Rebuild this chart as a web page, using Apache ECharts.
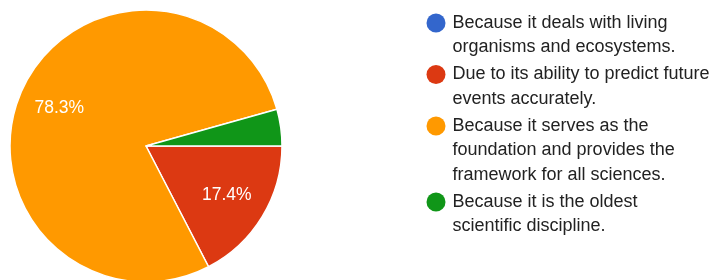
<!DOCTYPE html>
<html>
<head>
<meta charset="utf-8">
<title>Pie</title>
<script src="https://cdn.jsdelivr.net/npm/echarts@6/dist/echarts.min.js"></script>
<style>
  html, body { margin: 0; padding: 0; background: #fff; }
  #main { width: 718px; height: 280px; }
</style>
</head>
<body>
<div id="main"></div>
<script>
// answers in the order they go round the pie (clockwise from 3 o'clock)
var answers = [
  "Because it deals with living organisms and ecosystems.",
  "Due to its ability to predict future events accurately.",
  "Because it serves as the foundation and provides the framework for all sciences.",
  "Because it is the oldest scientific discipline."
];
// legend text, wrapped like the original
var answerLines = [
  ["Because it deals with living", "organisms and ecosystems."],
  ["Due to its ability to predict future", "events accurately."],
  ["Because it serves as the", "foundation and provides the", "framework for all sciences."],
  ["Because it is the oldest", "scientific discipline."]
];
var responses = [0, 4, 18, 1];
var colors = ["#3366cc", "#dc3912", "#ff9900", "#109618"];

var font = '"Liberation Sans", Arial, sans-serif';
var lh = 24.5;

var rich = {
  t: { fontSize: 18, lineHeight: lh, color: "#222", fontFamily: font, padding: [0, 0, 0, 7] },
  s: { width: 19, lineHeight: lh }
};
colors.forEach(function (c, i) {
  rich["d" + i] = { width: 19, height: 19, borderRadius: 9.5, backgroundColor: c, lineHeight: lh };
});

var pieData = answers.map(function (name, i) {
  return { name: name, value: responses[i], itemStyle: { color: colors[i] } };
});

var myChart = echarts.init(document.getElementById("main"));
myChart.setOption({
  animation: false,
  legend: {
    orient: "vertical",
    left: 421.5,
    top: 13.5,
    padding: 0,
    itemGap: 8.5,
    icon: "none",
    itemWidth: 0,
    itemHeight: 0,
    selectedMode: false,
    data: answers,
    textStyle: { fontSize: 18, color: "#222", fontFamily: font, rich: rich },
    formatter: function (name) {
      var i = answers.indexOf(name);
      return answerLines[i].map(function (line, k) {
        return (k === 0 ? "{d" + i + "|}" : "{s|}") + "{t|" + line + "}";
      }).join("\n");
    }
  },
  series: [
    {
      type: "pie",
      center: [146, 146],
      radius: 136,
      startAngle: 0,
      clockwise: true,
      label: { show: false },
      labelLine: { show: false },
      itemStyle: { borderColor: "#fff", borderWidth: 1.5 },
      emphasis: { disabled: true },
      data: pieData
    },
    {
      // invisible copy, only there to put the percent labels further out
      type: "pie",
      center: [146, 146],
      radius: [47, 136],
      startAngle: 0,
      clockwise: true,
      silent: true,
      percentPrecision: 1,
      itemStyle: { color: "transparent", borderWidth: 0 },
      emphasis: { disabled: true },
      labelLine: { show: false },
      label: {
        show: true,
        position: "inside",
        color: "#fff",
        fontSize: 17.5,
        fontFamily: font,
        formatter: function (p) {
          return p.percent > 10 ? p.percent.toFixed(1) + "%" : "";
        }
      },
      data: answers.map(function (name, i) {
        return { name: name, value: responses[i] };
      })
    }
  ]
});
</script>
</body>
</html>
